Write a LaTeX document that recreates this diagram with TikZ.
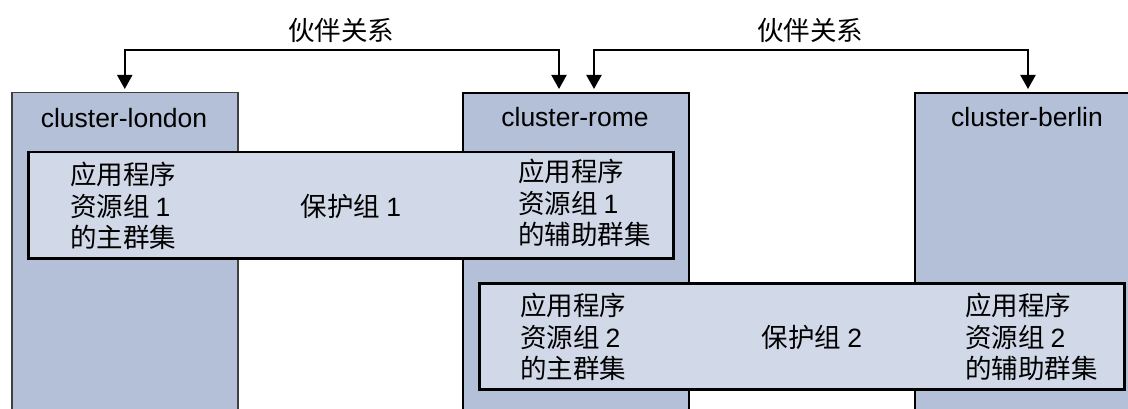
\documentclass[tikz,border=0pt]{standalone}
\usepackage{fontspec}
\setmainfont{Liberation Sans}
\newfontfamily\cjk{Noto Sans CJK SC}
\usetikzlibrary{arrows.meta}
\definecolor{clusterblue}{RGB}{179,192,216}
\definecolor{groupblue}{RGB}{209,217,232}
\begin{document}
\begin{tikzpicture}[x=1pt, y=-1pt]
\tikzstyle{cluster} = [rectangle, draw = black, line width = 2pt, fill = clusterblue, anchor = north west, minimum width = 226pt, minimum height = 340pt, inner sep = 0pt]
\tikzstyle{group} = [rectangle, draw = black, line width = 2.5pt, fill = groupblue, anchor = north west, minimum width = 645pt, minimum height = 106pt, inner sep = 0pt]
\tikzstyle{labeltext} = [font = \fontsize{26.5}{31.5}\selectfont, inner sep = 0pt]
\tikzstyle{member} = [font = \cjk\fontsize{26.5}{31.5}\selectfont, inner sep = 0pt, align = left, anchor = west]
\tikzstyle{link} = [{Triangle[length=14pt, width=15pt]}-{Triangle[length=14pt, width=15pt]}, line width = 2pt, shorten <= 3pt, shorten >= 3pt]
\useasboundingbox (0, 0) rectangle (1128, 409);
% clusters
\node[cluster, draw = black!75, line width = 1.5pt] (london) at (11, 92) {};
\node[cluster] (rome) at (462, 92) {};
\node[cluster] (berlin) at (914, 92) {};
\node[labeltext] (londonname) at (124, 118) {cluster-london};
\node[labeltext] (romename) at (575, 117) {cluster-rome};
\node[labeltext] (berlinname) at (1027, 117) {cluster-berlin};
% protection groups
\node[group] (pg1) at (27, 151) {};
\node[group] (pg2) at (478, 282) {};
\node[member] (pg1prim) at (70, 206) {应用程序\\资源组 \textrm{1}\\的主群集};
\node[member, anchor = center] (pg1name) at (351, 206) {保护组 \textrm{1}};
\node[member] (pg1sec) at (518, 203) {应用程序\\资源组 \textrm{1}\\的辅助群集};
\node[member] (pg2prim) at (520, 337) {应用程序\\资源组 \textrm{2}\\的主群集};
\node[member, anchor = center] (pg2name) at (812, 337) {保护组 \textrm{2}};
\node[member] (pg2sec) at (965, 337) {应用程序\\资源组 \textrm{2}\\的辅助群集};
% partnerships
\node[member, anchor = center] (partnerA) at (341, 30) {伙伴关系};
\node[member, anchor = center] (partnerB) at (810, 30) {伙伴关系};
\coordinate (busA) at (341, 50);
\coordinate (busB) at (810, 50);
\draw[link] (london.north) |- (busA) -| ([xshift=-17pt]rome.north);
\draw[link] ([xshift=18pt]rome.north) |- (busB) -| (berlin.north);
\end{tikzpicture}
\end{document}
